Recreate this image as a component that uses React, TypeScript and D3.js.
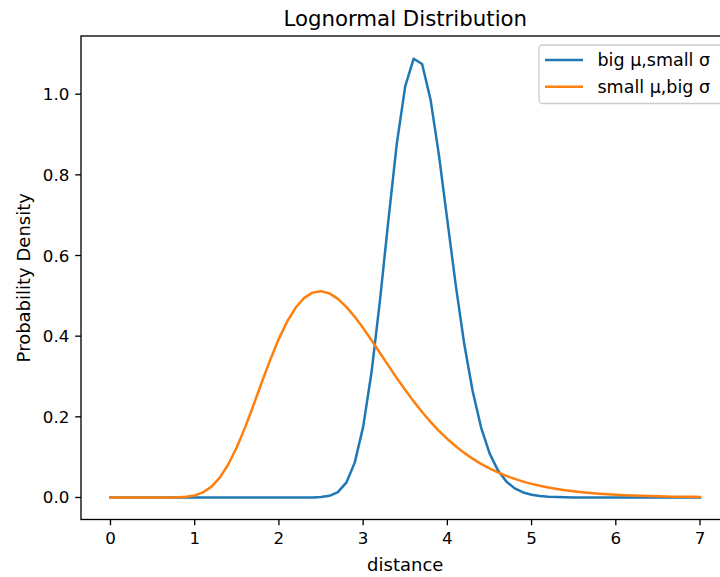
import * as d3 from "d3";

// distance grid, step 0.1 from 0 to 7
const distance = [
  0.0, 0.1, 0.2, 0.3, 0.4, 0.5, 0.6, 0.7, 0.8, 0.9,
  1.0, 1.1, 1.2, 1.3, 1.4, 1.5, 1.6, 1.7, 1.8, 1.9,
  2.0, 2.1, 2.2, 2.3, 2.4, 2.5, 2.6, 2.7, 2.8, 2.9,
  3.0, 3.1, 3.2, 3.3, 3.4, 3.5, 3.6, 3.7, 3.8, 3.9,
  4.0, 4.1, 4.2, 4.3, 4.4, 4.5, 4.6, 4.7, 4.8, 4.9,
  5.0, 5.1, 5.2, 5.3, 5.4, 5.5, 5.6, 5.7, 5.8, 5.9,
  6.0, 6.1, 6.2, 6.3, 6.4, 6.5, 6.6, 6.7, 6.8, 6.9,
  7.0,
];

// big mu, small sigma
const bigMuSmallSigma = [
  0, 0, 0, 0, 0, 0, 0, 0, 0, 0,
  0, 0, 0, 0, 0, 0, 0, 0, 0, 0,
  0, 0, 0, 0, 0.0002, 0.001, 0.0041, 0.0134, 0.0368, 0.0864,
  0.175, 0.311, 0.489, 0.688, 0.878, 1.02, 1.088, 1.075, 0.987, 0.849,
  0.687, 0.526, 0.381, 0.264, 0.174, 0.11, 0.0673, 0.0396, 0.0225, 0.0124,
  0.0067, 0.0035, 0.0018, 0.0009, 0.0004, 0.0002, 0, 0, 0, 0,
  0, 0, 0, 0, 0, 0, 0, 0, 0, 0,
  0,
];

// small mu, big sigma
const smallMuBigSigma = [
  0, 0, 0, 0, 0, 0, 0, 0.0001, 0.0004, 0.0017,
  0.0051, 0.0128, 0.027, 0.0498, 0.0823, 0.1244, 0.1745, 0.23, 0.2875, 0.343,
  0.394, 0.437, 0.471, 0.495, 0.508, 0.5116, 0.506, 0.4924, 0.4726, 0.448,
  0.42, 0.3897, 0.3584, 0.327, 0.296, 0.2664, 0.2383, 0.2119, 0.1876, 0.1653,
  0.1451, 0.1269, 0.1106, 0.0962, 0.0833, 0.072, 0.0621, 0.0535, 0.046, 0.0394,
  0.0338, 0.029, 0.0247, 0.0212, 0.018, 0.0153, 0.013, 0.0111, 0.0094, 0.008,
  0.0068, 0.0058, 0.0049, 0.0042, 0.0035, 0.003, 0.0025, 0.0021, 0.0018, 0.0016,
  0.0013,
];

const seriesNames = ["big μ,small σ", "small μ,big σ"];
const colors = ["#1f77b4", "#ff7f0e"];
const xTicks = [0, 1, 2, 3, 4, 5, 6, 7];
const yTicks = [0.0, 0.2, 0.4, 0.6, 0.8, 1.0];

const width = 720;
const height = 577;
const left = 81;
const right = 729.5;
const top = 36;
const bottom = 519.5;
const font = "DejaVu Sans, sans-serif";

export default function App() {
  const x = d3.scaleLinear().domain([-0.35, 7.35]).range([left, right]);
  const y = d3.scaleLinear().domain([-0.0546, 1.1443]).range([bottom, top]);

  const line = d3
    .line<number>()
    .x((_, i) => x(distance[i]))
    .y((d) => y(d));

  const series = [bigMuSmallSigma, smallMuBigSigma];

  return (
    <svg
      width={width}
      height={height}
      style={{ position: "absolute", left: 0, top: 0, background: "#fff" }}
      fontFamily={font}
    >
      <defs>
        <clipPath id="plot">
          <rect x={left} y={top} width={right - left} height={bottom - top} />
        </clipPath>
      </defs>

      <g clipPath="url(#plot)" fill="none" strokeWidth={2.5} strokeLinejoin="round" strokeLinecap="square">
        {series.map((s, i) => (
          <path key={i} d={line(s) ?? ""} stroke={colors[i]} />
        ))}
      </g>

      {/* spines */}
      <rect
        x={left}
        y={top}
        width={right - left}
        height={bottom - top}
        fill="none"
        stroke="#000"
        strokeWidth={1.33}
      />

      {/* x ticks */}
      <g fontSize={16.7} textAnchor="middle">
        {xTicks.map((t) => (
          <g key={t} transform={`translate(${x(t)},${bottom})`}>
            <line y2={5.8} stroke="#000" strokeWidth={1.33} />
            <text y={24.5}>{t}</text>
          </g>
        ))}
      </g>

      {/* y ticks */}
      <g fontSize={16.7} textAnchor="end">
        {yTicks.map((t) => (
          <g key={t} transform={`translate(${left},${y(t)})`}>
            <line x2={-5.8} stroke="#000" strokeWidth={1.33} />
            <text x={-11.6} dy="0.36em">{t.toFixed(1)}</text>
          </g>
        ))}
      </g>

      <text x={(left + right) / 2} y={26} fontSize={21.3} textAnchor="middle">
        Lognormal Distribution
      </text>
      <text x={(left + right) / 2} y={570.5} fontSize={18} textAnchor="middle">
        distance
      </text>
      <text
        transform={`translate(29.5,${(top + bottom) / 2}) rotate(-90)`}
        fontSize={18}
        textAnchor="middle"
      >
        Probability Density
      </text>

      {/* legend */}
      <g>
        <rect
          x={539}
          y={45}
          width={190}
          height={58.5}
          rx={3.5}
          fill="#fff"
          fillOpacity={0.8}
          stroke="#cccccc"
          strokeWidth={1.33}
        />
        {seriesNames.map((name, i) => (
          <g key={name} transform={`translate(0,${60 + i * 26.8})`}>
            <line x1={545} x2={583} stroke={colors[i]} strokeWidth={2.5} />
            <text x={597.5} y={6.2} fontSize={17.5}>
              {name}
            </text>
          </g>
        ))}
      </g>
    </svg>
  );
}
